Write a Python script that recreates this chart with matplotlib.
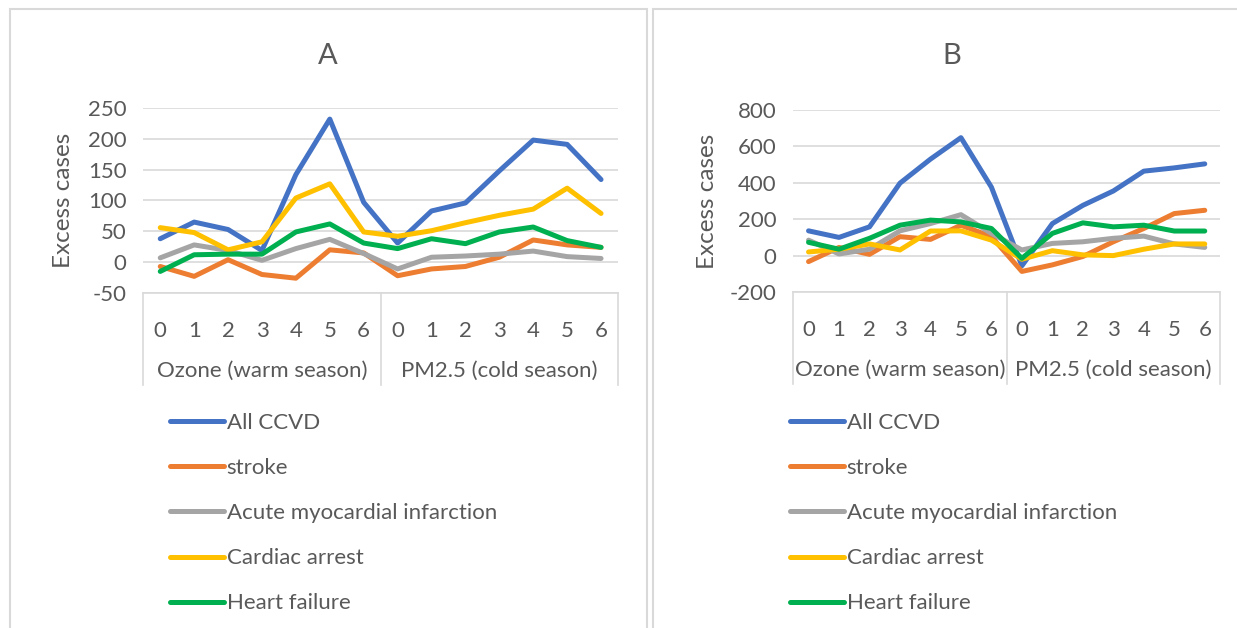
import matplotlib
matplotlib.use("Agg")
import matplotlib.pyplot as plt
from matplotlib.patches import Rectangle
from matplotlib.lines import Line2D
import matplotlib.transforms as mtransforms

plt.rcParams['font.family'] = ['Lato', 'DejaVu Sans']

# ---------------- data ----------------
lags = ["0", "1", "2", "3", "4", "5", "6"]
groups = ["Ozone (warm season)", "PM2.5 (cold season)"]
series_names = ["All CCVD", "stroke", "Acute myocardial infarction", "Cardiac arrest", "Heart failure"]
colors = ["#4472C4", "#ED7D31", "#A5A5A5", "#FFC000", "#00B050"]

# Panel A (ozone lags 0-6, then PM2.5 lags 0-6)
A_all_ccvd = [38, 65, 53, 19, 142, 232, 97, 31, 83, 96, 148, 198, 191, 134]
A_stroke   = [-7, -23, 4, -20, -26, 20, 15, -22, -11, -7, 8, 36, 28, 24]
A_ami      = [7, 28, 19, 3, 22, 37, 14, -11, 8, 10, 13, 18, 9, 6]
A_arrest   = [56, 48, 20, 33, 104, 127, 49, 42, 51, 64, 76, 86, 120, 79]
A_hf       = [-15, 12, 13, 13, 49, 62, 31, 22, 38, 30, 49, 57, 35, 24]

# Panel B
B_all_ccvd = [136, 100, 158, 398, 530, 648, 376, -56, 176, 276, 355, 464, 482, 504]
B_stroke   = [-33, 45, 7, 104, 89, 167, 104, -87, -51, -5, 76, 149, 231, 249]
B_ami      = [85, 9, 35, 136, 176, 225, 122, 31, 67, 76, 95, 107, 64, 45]
B_arrest   = [20, 35, 64, 31, 135, 136, 85, -20, 27, 4, 0, 35, 64, 64]
B_hf       = [73, 35, 95, 167, 195, 185, 149, -15, 122, 180, 158, 167, 135, 135]

A_yticks = [-50, 0, 50, 100, 150, 200, 250]
B_yticks = [-200, 0, 200, 400, 600, 800]

# ---------------- figure ----------------
W, H = 1237, 628
fig = plt.figure(figsize=(W / 100, H / 100), dpi=100)
fig.patch.set_facecolor("white")

text_col = "#595959"
grid_col = "#D9D9D9"
FS = 16

def fx(px):
    return px / W

def fy(py):
    return 1 - py / H

# panel frames
fig.patches.append(Rectangle((fx(10), fy(640)), fx(647) - fx(10), fy(9) - fy(640),
                             transform=fig.transFigure, fill=False, ec="#D9D9D9", lw=1.5))
fig.patches.append(Rectangle((fx(653), fy(640)), fx(1260) - fx(653), fy(9) - fy(640),
                             transform=fig.transFigure, fill=False, ec="#D9D9D9", lw=1.5))


def make_panel(rect_px, data, yticks, title, title_x, ylabel_x, legend_x):
    l, r, t, b = rect_px
    ax = fig.add_axes([fx(l), fy(b), fx(r) - fx(l), fy(t) - fy(b)])
    n = len(lags) * len(groups)
    xs = list(range(n))
    for vals, name, c in zip(data, series_names, colors):
        ax.plot(xs, vals, color=c, lw=3.6, label=name,
                solid_capstyle="round", solid_joinstyle="round")
    ax.set_xlim(-0.5, n - 0.5)
    ax.set_ylim(yticks[0], yticks[-1])
    ax.set_yticks(yticks)
    ax.set_yticklabels([str(v) for v in yticks])
    ax.yaxis.grid(True, color=grid_col, lw=1.2)
    ax.set_axisbelow(True)
    for s in ax.spines.values():
        s.set_visible(False)
    ax.tick_params(axis="y", length=0, pad=12, labelsize=FS, labelcolor=text_col)
    ax.set_xticks(xs)
    ax.set_xticklabels(lags * len(groups))
    ax.tick_params(axis="x", length=0, pad=20, labelsize=FS, labelcolor=text_col)

    # category box
    trans = mtransforms.blended_transform_factory(ax.transData, ax.transAxes)
    box_depth = 92 / (b - t)
    ax.add_line(Line2D([-0.5, n - 0.5], [0, 0], transform=trans, color=grid_col, lw=1.2, clip_on=False))
    for xv in [-0.5, len(lags) - 0.5, n - 0.5]:
        ax.add_line(Line2D([xv, xv], [0, -box_depth], transform=trans, color=grid_col,
                           lw=1.2, clip_on=False))
    for gi, g in enumerate(groups):
        cx = gi * len(lags) + (len(lags) - 1) / 2
        ax.text(cx, -78 / (b - t), g, transform=trans, ha="center", va="center",
                fontsize=FS, color=text_col)

    ax.set_ylabel("Excess cases", fontsize=17.5, color=text_col)
    ax.yaxis.set_label_coords((ylabel_x - l) / (r - l), 0.5)

    fig.text(fx(title_x), fy(56), title, ha="center", va="center", fontsize=21, color=text_col)

    handles, labels = ax.get_legend_handles_labels()
    fig.legend(handles, labels, loc="upper left",
               bbox_to_anchor=(fx(legend_x), fy(413)), frameon=False,
               fontsize=FS, labelcolor=text_col, handlelength=2.45, handletextpad=0.1,
               labelspacing=1.13, borderpad=0, borderaxespad=0)
    return ax


make_panel((143.3, 618, 108, 293),
           [A_all_ccvd, A_stroke, A_ami, A_arrest, A_hf], A_yticks, "A", 328, 74, 170)
make_panel((793.3, 1220, 110, 292),
           [B_all_ccvd, B_stroke, B_ami, B_arrest, B_hf], B_yticks, "B", 952, 718, 790)

fig.savefig("out.png", dpi=100, facecolor="white")
